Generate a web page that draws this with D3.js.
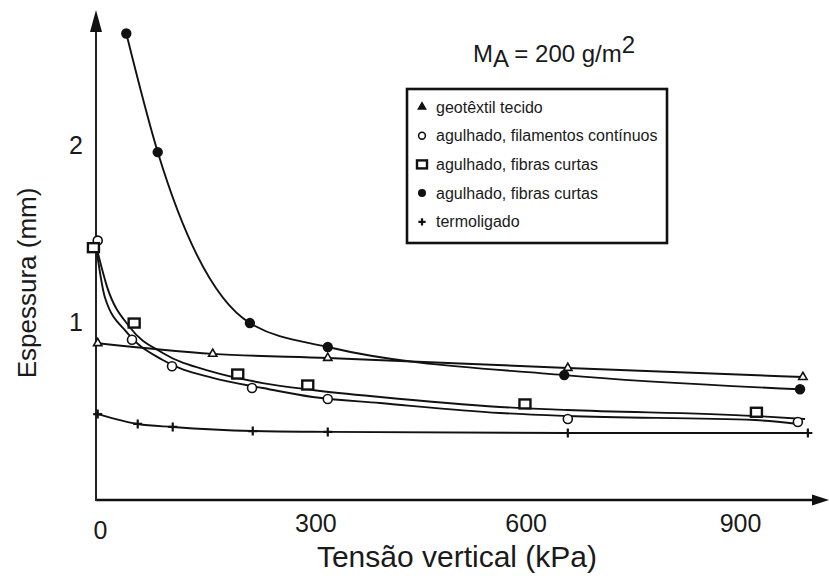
<!DOCTYPE html>
<html>
<head>
<meta charset="utf-8">
<script src="https://cdnjs.cloudflare.com/ajax/libs/d3/7.8.5/d3.min.js"></script>
<style>
body { margin: 0; background: #fff; }
text { font-family: "Liberation Sans", Arial, sans-serif; fill: #1a1a1a; }
</style>
</head>
<body>
<svg width="829" height="576"></svg>
<script>
// valores: tensão (kPa), espessura (mm)
var xTicks = [0, 300, 600, 900];
var yTicks = [1, 2];

var legendLabels = ["geotêxtil tecido", "agulhado, filamentos contínuos",
    "agulhado, fibras curtas", "agulhado, fibras curtas", "termoligado"];

var tecidoPts = [[1, 0.88], [162, 0.82], [323, 0.797], [659, 0.74], [988, 0.689]];

var filamPts = [[1, 1.46], [49, 0.90], [105, 0.75], [217, 0.627], [323, 0.565], [659, 0.452], [981, 0.435]];
var filamCurve = [[0, 1.39], [11, 1.14], [42, 0.94], [92, 0.785], [162, 0.684], [232, 0.627],
    [302, 0.576], [396, 0.542], [564, 0.486], [658, 0.469], [921, 0.446], [981, 0.424]];

var curtasPts = [[-5, 1.42], [52, 0.994], [197, 0.706], [295, 0.644], [599, 0.537], [923, 0.49]];
var curtasCurve = [[0, 1.41], [14, 1.20], [46, 0.97], [92, 0.825], [162, 0.718], [232, 0.655],
    [302, 0.616], [396, 0.576], [564, 0.52], [658, 0.503], [921, 0.469], [991, 0.452]];

var cheiaPts = [[41, 2.63], [85, 1.96], [214, 0.994], [323, 0.859], [654, 0.70], [984, 0.62]];

var termoPts = [[1, 0.48], [57, 0.424], [106, 0.407], [218, 0.384], [323, 0.379], [659, 0.373], [995, 0.373]];

var svg = d3.select("svg"),
    width = +svg.attr("width"),
    height = +svg.attr("height");

var x = d3.scaleLinear().domain([0, 900]).range([97, 740]);
var y = d3.scaleLinear().domain([0, 2]).range([499, 145]);

var line = d3.line()
    .x(function (d) { return x(d[0]); })
    .y(function (d) { return y(d[1]); })
    .curve(d3.curveMonotoneX);

// eixos com setas
var ax = svg.append("g").attr("class", "axes");
ax.append("line")
    .attr("x1", x(0) - 1).attr("y1", y(0) + 1)
    .attr("x2", width - 14).attr("y2", y(0) + 1)
    .attr("stroke", "#111").attr("stroke-width", 2.6);
ax.append("path")
    .attr("d", "M" + width + "," + (y(0) + 1) + "l-17,-5.5v11z")
    .attr("fill", "#111");
ax.append("line")
    .attr("x1", x(0) - 1).attr("y1", y(0) + 2)
    .attr("x2", x(0) - 1).attr("y2", 30)
    .attr("stroke", "#222").attr("stroke-width", 2);
ax.append("path")
    .attr("d", "M" + (x(0) - 1) + ",10l-6,22h12z")
    .attr("fill", "#111");

var xAxis = svg.append("g")
    .attr("transform", "translate(0," + (y(0) + 1) + ")")
    .call(d3.axisBottom(x).tickValues(xTicks).tickSize(0).tickPadding(14));
xAxis.select(".domain").remove();
xAxis.selectAll("text")
    .attr("font-size", 25)
    .attr("font-family", "Liberation Sans, Arial, sans-serif")
    .attr("fill", "#1a1a1a")
    .attr("dx", function (d) { return d === 0 ? 3 : (d === 300 ? 4 : 0); })
    .attr("y", function (d) { return d === 0 ? 21 : 14; });

var yAxis = svg.append("g")
    .attr("transform", "translate(" + (x(0) - 1) + ",0)")
    .call(d3.axisLeft(y).tickValues(yTicks).tickFormat(d3.format("d")).tickSize(0).tickPadding(13));
yAxis.select(".domain").remove();
yAxis.selectAll("text")
    .attr("font-size", 25)
    .attr("font-family", "Liberation Sans, Arial, sans-serif")
    .attr("fill", "#1a1a1a");

// títulos
svg.append("text")
    .attr("x", 457).attr("y", 567)
    .attr("text-anchor", "middle")
    .attr("font-size", 30)
    .text("Tensão vertical (kPa)");

svg.append("text")
    .attr("transform", "translate(36,283) rotate(-90)")
    .attr("text-anchor", "middle")
    .attr("font-size", 26)
    .text("Espessura (mm)");

var ma = svg.append("text")
    .attr("x", 473).attr("y", 62)
    .attr("font-size", 24);
ma.append("tspan").text("M");
ma.append("tspan").attr("dy", 5).text("A");
ma.append("tspan").attr("dy", -5).text(" = 200 g/m");
ma.append("tspan").attr("dy", -9).text("2");

// curvas
var curves = svg.append("g").attr("fill", "none").attr("stroke", "#111").attr("stroke-width", 1.9);
curves.append("path").attr("d", line(cheiaPts));
curves.append("path").attr("d", line(tecidoPts));
curves.append("path").attr("d", line(curtasCurve));
curves.append("path").attr("d", line(filamCurve));
curves.append("path").attr("d", line(termoPts));

// marcadores
function triangle(g, s, filled) {
    g.append("path")
        .attr("d", d3.symbol().type(d3.symbolTriangle).size(s)())
        .attr("fill", filled ? "#111" : "#fff")
        .attr("stroke", "#111").attr("stroke-width", 1.6);
}
function openCircle(g, r) {
    g.append("circle").attr("r", r).attr("fill", "#fff")
        .attr("stroke", "#111").attr("stroke-width", 1.6);
}
function square(g, w, h) {
    g.append("rect").attr("x", -w / 2).attr("y", -h / 2).attr("width", w).attr("height", h)
        .attr("fill", "#fff").attr("stroke", "#111").attr("stroke-width", 2.4);
}
function dot(g, r) {
    g.append("circle").attr("r", r).attr("fill", "#111");
}
function plus(g, s) {
    g.append("path").attr("d", "M" + (-s) + ",0H" + s + "M0," + (-s) + "V" + s)
        .attr("stroke", "#111").attr("stroke-width", 2.2);
}

function markers(pts, draw) {
    svg.append("g").selectAll("g")
        .data(pts)
        .enter().append("g")
        .attr("transform", function (d) { return "translate(" + x(d[0]) + "," + y(d[1]) + ")"; })
        .each(function () { draw(d3.select(this)); });
}

markers(tecidoPts, function (g) { triangle(g, 30, false); });
markers(filamPts, function (g) { openCircle(g, 4.5); });
markers(curtasPts, function (g) { square(g, 11, 9); });
markers(cheiaPts, function (g) { dot(g, 5.2); });
markers(termoPts, function (g) { plus(g, 4.5); });

// legenda
var legend = svg.append("g");
legend.append("rect")
    .attr("x", 407).attr("y", 89).attr("width", 260).attr("height", 154)
    .attr("fill", "#fff").attr("stroke", "#111").attr("stroke-width", 2.6);

var legendMarkers = [
    function (g) { triangle(g, 22, true); },
    function (g) { openCircle(g, 3.4); },
    function (g) { square(g, 10, 8); },
    function (g) { dot(g, 4); },
    function (g) { plus(g, 3.6); }
];

var item = legend.selectAll(".item")
    .data(legendLabels)
    .enter().append("g")
    .attr("class", "item")
    .attr("transform", function (d, i) { return "translate(422," + (107 + i * 28.7) + ")"; });

item.each(function (d, i) { legendMarkers[i](d3.select(this)); });

item.append("text")
    .attr("x", 14)
    .attr("dy", "0.35em")
    .attr("font-size", 16)
    .text(function (d) { return d; });
</script>
</body>
</html>
